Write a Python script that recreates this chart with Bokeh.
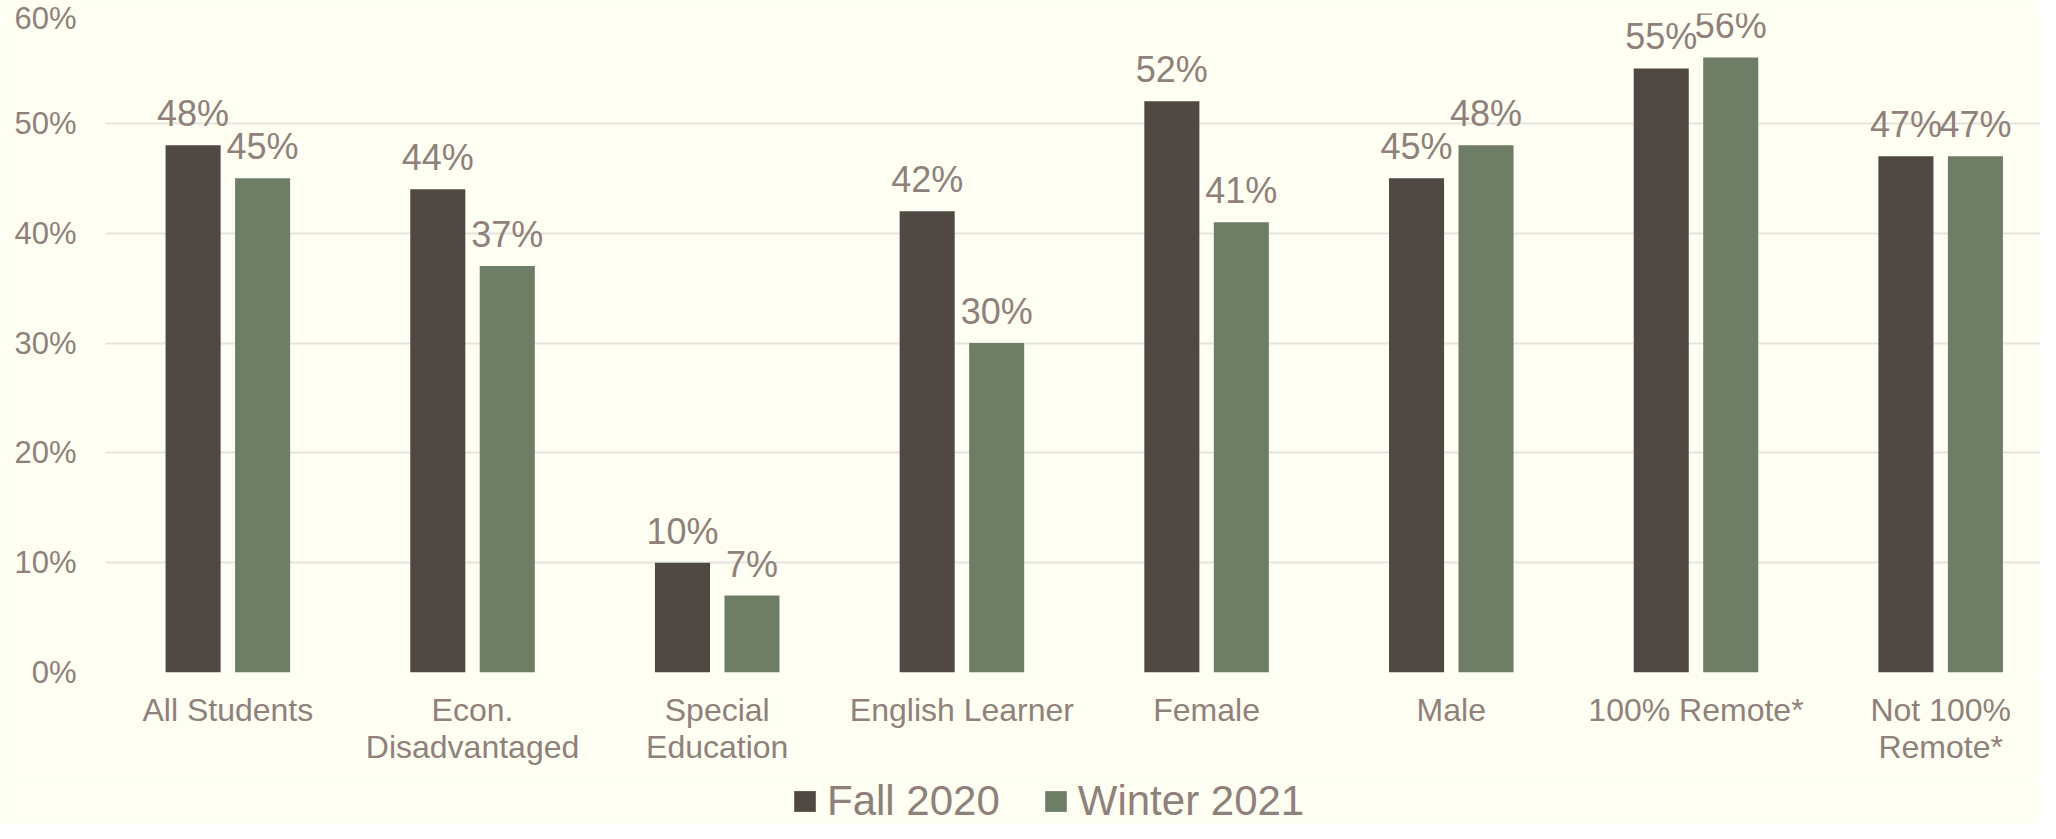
from bokeh.plotting import figure
from bokeh.layouts import column
from bokeh.models import (ColumnDataSource, Range1d, LabelSet, Legend,
                          LegendItem, PrintfTickFormatter, FixedTicker)
from bokeh.transform import dodge
from bokeh.core.properties import value
from bokeh.embed import file_html
from bokeh.resources import INLINE

categories = ["All Students", "Econ.\nDisadvantaged", "Special\nEducation", "English Learner",
              "Female", "Male", "100% Remote*", "Not 100%\nRemote*"]
fall_2020 = [48, 44, 10, 42, 52, 45, 55, 47]
winter_2021 = [45, 37, 7, 30, 41, 48, 56, 47]
y_ticks = [0, 10, 20, 30, 40, 50, 60]
series_names = ["Fall 2020", "Winter 2021"]

BG = "#FEFEF3"
DARK = "#504843"
GREEN = "#6D7D66"
TEXT = "#8F817A"
GRID = "#E5E4DF"
FONT = "Liberation Sans"

# category slots on a numeric axis (one unit per category)
slot = [i + 0.5 for i in range(len(categories))]

src = ColumnDataSource(dict(
    slot=slot,
    fall=fall_2020,
    winter=winter_2021,
    fall_lbl=[f"{v}%" for v in fall_2020],
    winter_lbl=[f"{v}%" for v in winter_2021],
))

p = figure(width=2040, height=780, output_backend="svg", toolbar_location=None,
           x_range=Range1d(0, 7.908), y_range=Range1d(0, 60),
           background_fill_color=BG, border_fill_color=BG,
           min_border_left=105, min_border_right=0, min_border_top=13,
           min_border_bottom=108)
p.outline_line_color = None

off = 0.142
w = 0.225
r1 = p.vbar(x=dodge("slot", -off), top="fall", width=w, bottom=0,
            source=src, fill_color=DARK, line_color=None)
r2 = p.vbar(x=dodge("slot", off), top="winter", width=w, bottom=0,
            source=src, fill_color=GREEN, line_color=None)

for col, lbl, o in (("fall", "fall_lbl", -off), ("winter", "winter_lbl", off)):
    ls = LabelSet(x=dodge("slot", o), y=col, text=lbl, source=src,
                  text_align="center", text_baseline="alphabetic", y_offset=19,
                  text_color=TEXT, text_font=value(FONT), text_font_size="36px")
    p.add_layout(ls)

p.xgrid.grid_line_color = None
p.ygrid.grid_line_color = GRID
p.ygrid.grid_line_width = 2
p.ygrid.ticker = FixedTicker(ticks=y_ticks)

p.yaxis.ticker = FixedTicker(ticks=y_ticks)
p.yaxis.formatter = PrintfTickFormatter(format="%d%%")
p.yaxis.axis_line_color = None
p.yaxis.major_tick_line_color = None
p.yaxis.minor_tick_line_color = None
p.yaxis.major_tick_out = 0
p.yaxis.major_tick_in = 0
p.yaxis.major_label_standoff = 29
p.yaxis.major_label_text_font = FONT
p.yaxis.major_label_text_font_size = "31px"
p.yaxis.major_label_text_color = TEXT

p.xaxis.ticker = FixedTicker(ticks=slot)
p.xaxis.major_label_overrides = {s: c for s, c in zip(slot, categories)}
p.xaxis.axis_line_color = None
p.xaxis.major_tick_line_color = None
p.xaxis.minor_tick_line_color = None
p.xaxis.minor_tick_out = 0
p.xaxis.major_tick_out = 0
p.xaxis.major_tick_in = 0
p.xaxis.major_label_standoff = 19
p.xaxis.major_label_text_font = FONT
p.xaxis.major_label_text_font_size = "32px"
p.xaxis.major_label_text_color = TEXT
p.xaxis.major_label_text_line_height = 1.05

# legend strip below the chart
pl = figure(width=2040, height=43, output_backend="svg", toolbar_location=None,
            x_range=Range1d(0, 1), y_range=Range1d(0, 1),
            x_axis_location=None, y_axis_location=None,
            background_fill_color=BG, border_fill_color=BG, min_border=0)
pl.outline_line_color = None
pl.grid.grid_line_color = None
# zero-height swatch renderers (nothing visible in the strip; used by the legend)
lr1 = pl.vbar(x=[0.5], top=[0], bottom=[0], width=0.1, fill_color=DARK, line_color=None)
lr2 = pl.vbar(x=[0.5], top=[0], bottom=[0], width=0.1, fill_color=GREEN, line_color=None)

legend = Legend(items=[LegendItem(label=series_names[0], renderers=[lr1]),
                       LegendItem(label=series_names[1], renderers=[lr2])],
                orientation="horizontal", location=(686, -2),
                glyph_width=27, glyph_height=26, label_standoff=9, spacing=42,
                padding=0, margin=0, border_line_color=None,
                background_fill_alpha=0,
                label_text_font=FONT, label_text_font_size="42px",
                label_text_color=TEXT, label_text_baseline="middle")
pl.add_layout(legend, "center")

layout = column(p, pl, spacing=0)
open("out.html", "w").write(file_html(layout, INLINE))
